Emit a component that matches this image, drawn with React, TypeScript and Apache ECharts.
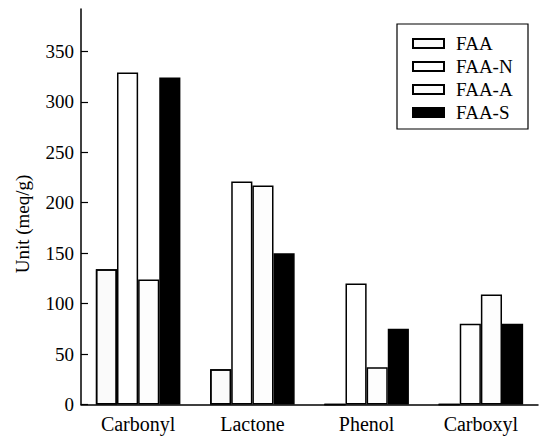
import React, { useEffect, useRef } from "react";
import * as echarts from "echarts";

const categories = ["Carbonyl", "Lactone", "Phenol", "Carboxyl"];
const seriesNames = ["FAA", "FAA-N", "FAA-A", "FAA-S"];
const faa = [134, 35, 0, 0];
const faaN = [329, 221, 120, 80];
const faaA = [124, 217, 37, 109];
const faaS = [324, 150, 75, 80];
const yTicks = [0, 50, 100, 150, 200, 250, 300, 350];

const FONT = "Liberation Serif";

export default function App() {
  const ref = useRef<HTMLDivElement>(null);
  useEffect(() => {
    if (!ref.current) return;
    const chart = echarts.init(ref.current, null, { renderer: "svg" });
    const dots = {
      symbol: "circle",
      symbolSize: 0.5,
      color: "rgba(0,0,0,0.3)",
      dashArrayX: [1, 0],
      dashArrayY: [5, 3],
      rotation: 0.4,
    };
    const mk = (name: string, data: number[], fill: string, decal?: any) => ({
      name,
      type: "bar",
      data,
      barGap: "0%",
      barCategoryGap: "26%",
      itemStyle: {
        color: fill,
        borderColor: "#000",
        borderWidth: 1.5,
        ...(decal ? { decal } : {}),
      },
    });
    chart.setOption({
      animation: false,
      backgroundColor: "#fff",
      textStyle: { fontFamily: FONT, color: "#000" },
      grid: { left: 81, right: 2, top: 9, bottom: 31.5, containLabel: false },
      legend: {
        orient: "vertical",
        left: 412,
        top: 34,
        padding: 0,
        itemWidth: 31,
        itemHeight: 9,
        itemGap: 4,
        icon: "rect",
        data: seriesNames,
        textStyle: { fontFamily: FONT, fontSize: 19, color: "#000", padding: [0, 0, 0, 7] },
      },
      graphic: [
        {
          type: "rect",
          shape: { x: 397, y: 24, width: 131, height: 105 },
          style: { fill: "none", stroke: "#000", lineWidth: 1.2 },
          z: 10,
        },
        {
          type: "text",
          x: 22,
          y: 224,
          rotation: Math.PI / 2,
          style: {
            text: "Unit (meq/g)",
            fontFamily: FONT,
            fontSize: 19,
            fill: "#000",
            align: "center",
            verticalAlign: "middle",
          },
        },
      ],
      xAxis: {
        type: "category",
        data: categories,
        axisLine: { lineStyle: { color: "#000", width: 1.5 } },
        axisTick: { inside: true, length: 7, lineStyle: { color: "#000", width: 1.2 } },
        axisLabel: { fontFamily: FONT, fontSize: 20, color: "#000", margin: 9 },
        splitLine: { show: false },
      },
      yAxis: {
        type: "value",
        min: 0,
        max: 392,
        interval: 50,
        axisLine: { show: true, lineStyle: { color: "#000", width: 1.5 } },
        axisTick: {
          show: true,
          inside: true,
          length: 7,
          customValues: yTicks,
          lineStyle: { color: "#000", width: 1.2 },
        },
        axisLabel: {
          fontFamily: FONT,
          fontSize: 19,
          color: "#000",
          margin: 7,
          customValues: yTicks,
        },
        splitLine: { show: false },
      },
      series: [
        mk("FAA", faa, "#fafafa", dots),
        mk("FAA-N", faaN, "#ffffff"),
        mk("FAA-A", faaA, "#fdfdfd"),
        mk("FAA-S", faaS, "#000000"),
      ],
    });
    return () => chart.dispose();
  }, []);
  return <div ref={ref} style={{ width: 540, height: 436, position: "absolute", left: 0, top: 0 }} />;
}
